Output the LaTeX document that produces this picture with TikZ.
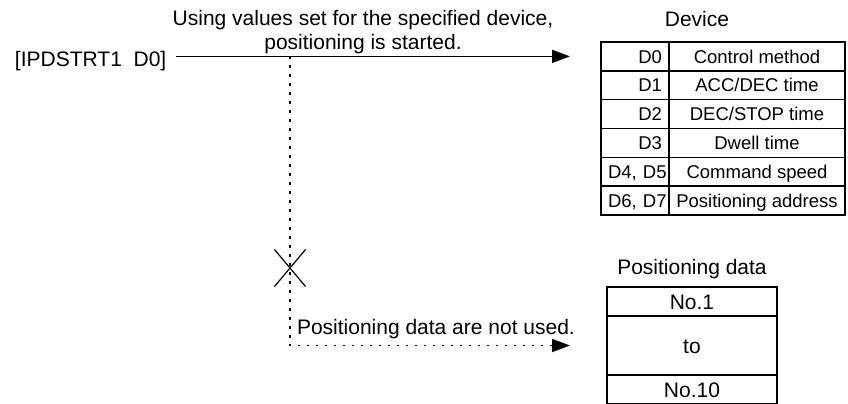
\documentclass[tikz,border=0pt]{standalone}
\usepackage{fontspec}
\setmainfont{Liberation Sans}
\usetikzlibrary{arrows.meta, positioning, calc, shapes.misc}
\tikzset{
  txt/.style={inner sep=0pt, outer sep=0pt, font=\fontsize{10.5}{12}\selectfont},
  cell/.style={draw, line width=0.7pt, inner sep=0pt, outer sep=0pt, text depth=0pt},
  keycell/.style={cell, font=\fontsize{9.25}{11}\selectfont, text height=6.6pt, minimum height=14.42pt, text width=27pt, inner xsep=3.5pt, align=right},
  valcell/.style={cell, font=\fontsize{9.25}{11}\selectfont, text height=6.6pt, minimum height=14.42pt, minimum width=88pt},
  datacell/.style={cell, font=\fontsize{10.5}{12}\selectfont, text height=7.5pt, minimum width=85pt, minimum height=#1},
  arr/.style={-{Triangle[length=9pt, width=6.5pt]}, line width=0.85pt},
  dotarr/.style={arr, line width=0.95pt, dash pattern=on 1.3pt off 3.2pt},
}
\begin{document}
\begin{tikzpicture}[x=0.5pt, y=-0.5pt]
  \useasboundingbox (0,0) rectangle (848,403);
  % device table
  \node[keycell] (k0) at (635,56.4) {D0};
  \node[valcell, right=0pt of k0] (v0) {Control method};
  \node[keycell, below=0pt of k0] (k1) {D1};
  \node[valcell, right=0pt of k1] (v1) {ACC/DEC time};
  \node[keycell, below=0pt of k1] (k2) {D2};
  \node[valcell, right=0pt of k2] (v2) {DEC/STOP time};
  \node[keycell, below=0pt of k2] (k3) {D3};
  \node[valcell, right=0pt of k3] (v3) {Dwell time};
  \node[keycell, below=0pt of k3] (k4) {\mbox{D4, D5}};
  \node[valcell, right=0pt of k4] (v4) {Command speed};
  \node[keycell, below=0pt of k4] (k5) {\mbox{D6, D7}};
  \node[valcell, right=0pt of k5] (v5) {Positioning address};
  \draw[line width=1.2pt] (k0.north west) rectangle (v5.south east);
  \node[txt, anchor=base] (devlbl) at (697,26) {Device};
  % positioning data table
  \node[datacell=14.5pt] (p0) at (692,301.5) {No.1};
  \node[datacell=29.5pt, below=0pt of p0] (p1) {to};
  \node[datacell=14.5pt, below=0pt of p1] (p2) {No.10};
  \node[txt, above=4pt of p0] (datalbl) {Positioning data};
  % instruction and arrows
  \node[txt, anchor=base west, inner xsep=5pt] (cmd) at (5,66) {[IPDSTRT1~~D0]};
  \node[txt, align=center, anchor=north] (note) at (363,10.7) {Using values set for the specified device,\\positioning is started.};
  \coordinate (tip1) at ([xshift=-15.5pt]k0.west);
  \coordinate (tip2) at (tip1 |- p1.west);
  \coordinate (split) at (290,0 |- tip1);
  \draw[arr] (cmd.east |- tip1) -- (tip1);
  \draw[dotarr] (split) |- (tip2);
  \node[draw, cross out, line width=0.6pt, minimum width=15pt, minimum height=18pt, inner sep=0pt] (stop) at (split |- 0,268) {};
  \node[txt, anchor=base west] (unused) at (297,334) {Positioning data are not used.};
\end{tikzpicture}
\end{document}
